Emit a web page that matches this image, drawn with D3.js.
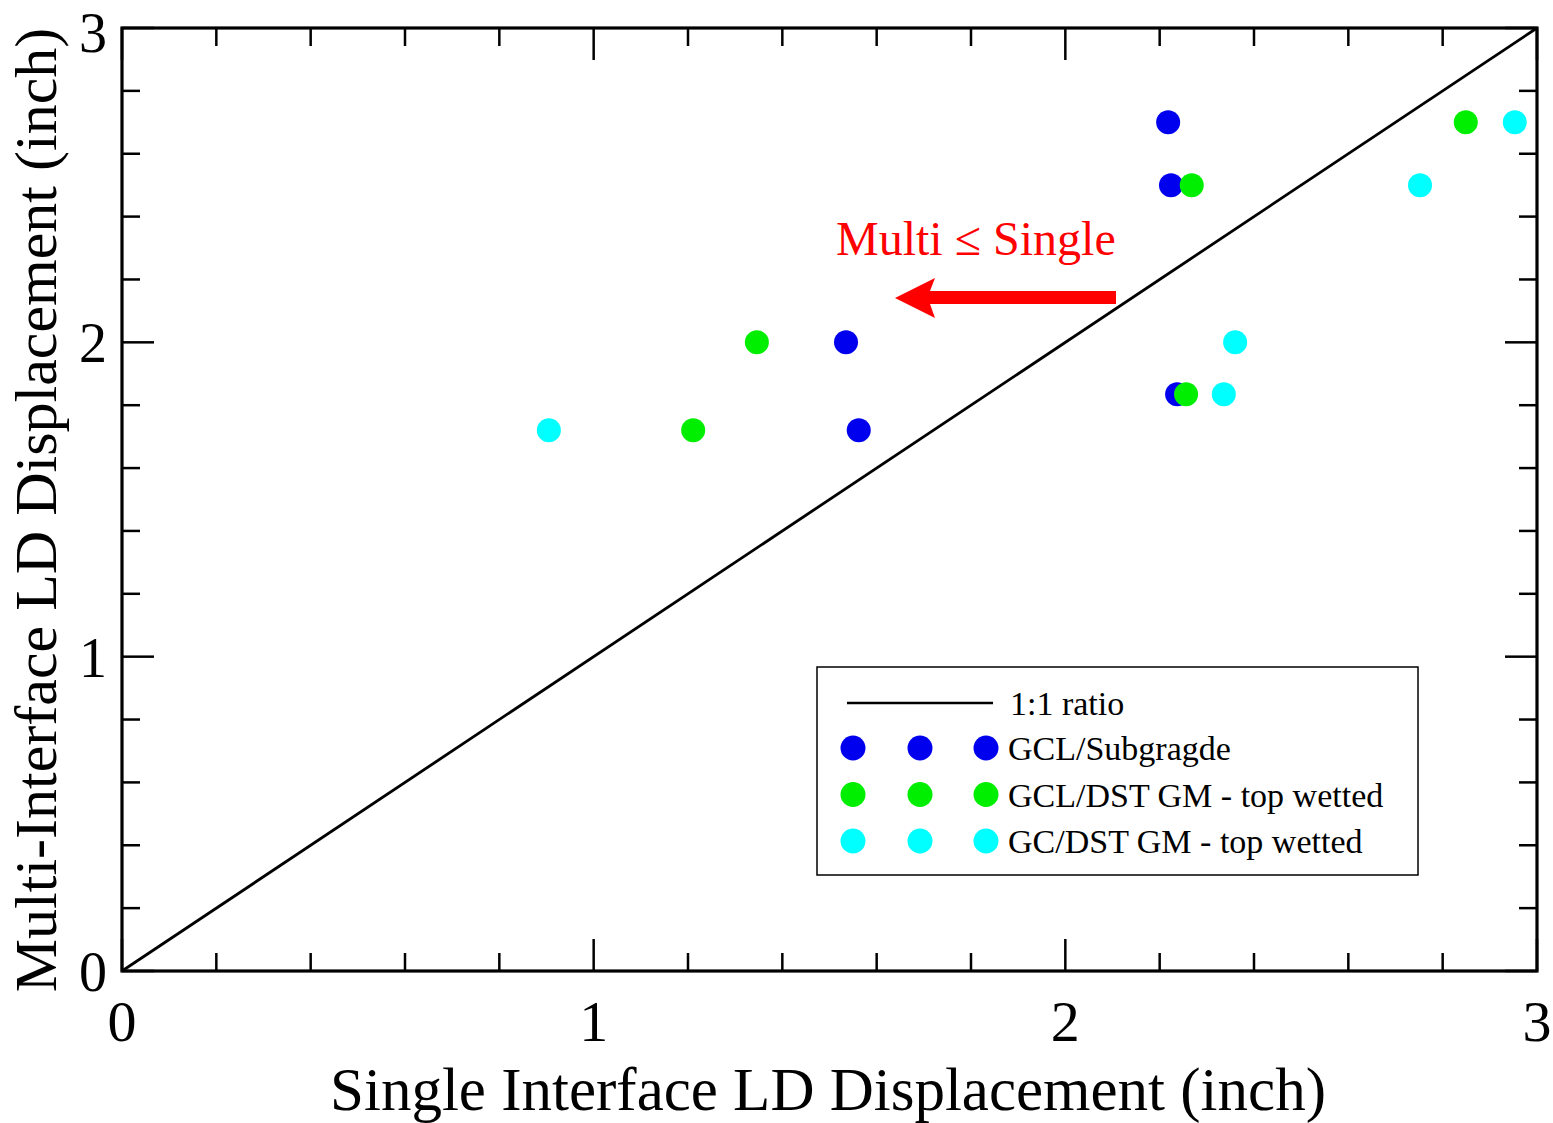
<!DOCTYPE html>
<html><head><meta charset="utf-8">
<script src="https://cdn.jsdelivr.net/npm/d3@7"></script>
<style>body{margin:0;background:#fff}svg{display:block}text{font-family:"Liberation Serif","Times New Roman",serif}</style>
</head><body>
<script>
const seriesNames = ["GCL/Subgragde", "GCL/DST GM - top wetted", "GC/DST GM - top wetted"];
const seriesColors = ["#0000ee", "#00ee00", "#00ffff"];
const blueX = [2.218, 2.224, 1.535, 1.562, 2.237];
const blueY = [2.70, 2.50, 2.00, 1.72, 1.835];
const greenX = [2.268, 1.346, 1.211, 2.256, 2.849];
const greenY = [2.50, 2.00, 1.72, 1.835, 2.70];
const cyanX = [0.905, 2.360, 2.336, 2.752, 2.953];
const cyanY = [1.72, 2.00, 1.835, 2.50, 2.70];
const majorTicks = [0, 1, 2, 3];
const minorTicks = [0.2,0.4,0.6,0.8,1.2,1.4,1.6,1.8,2.2,2.4,2.6,2.8];
const ratioLine = [[0,0],[3,3]];

const W = 1553, H = 1123;
const L = 122, R = 1537, T = 28, B = 971;
const svg = d3.select("body").append("svg").attr("width", W).attr("height", H);
const x = d3.scaleLinear().domain([0,3]).range([L,R]);
const y = d3.scaleLinear().domain([0,3]).range([B,T]);

// ticks (inward, all 4 sides)
const g = svg.append("g");
function ticks(vals, len){
  vals.forEach(v=>{
    g.append("line").attr("x1",x(v)).attr("x2",x(v)).attr("y1",B).attr("y2",B-len).attr("stroke","#000").attr("stroke-width",2.5);
    g.append("line").attr("x1",x(v)).attr("x2",x(v)).attr("y1",T).attr("y2",T+len).attr("stroke","#000").attr("stroke-width",2.5);
    g.append("line").attr("y1",y(v)).attr("y2",y(v)).attr("x1",L).attr("x2",L+len).attr("stroke","#000").attr("stroke-width",2.5);
    g.append("line").attr("y1",y(v)).attr("y2",y(v)).attr("x1",R).attr("x2",R-len).attr("stroke","#000").attr("stroke-width",2.5);
  });
}
ticks(majorTicks, 32);
ticks(minorTicks, 18);

// 1:1 line
svg.append("path").datum(ratioLine)
  .attr("d", d3.line().x(d=>x(d[0])).y(d=>y(d[1])))
  .attr("stroke","#000").attr("stroke-width",2.8).attr("fill","none");

// frame
svg.append("rect").attr("x",L).attr("y",T).attr("width",R-L).attr("height",B-T)
  .attr("fill","none").attr("stroke","#000").attr("stroke-width",3.2);

// tick labels
majorTicks.forEach(v=>{
  svg.append("text").attr("x",x(v)).attr("y",B+70).attr("text-anchor","middle")
    .attr("font-size",58).text(v);
  svg.append("text").attr("x",L-15).attr("y",Math.max(y(v)+20, 52)).attr("text-anchor","end")
    .attr("font-size",56).text(v);
});

// axis titles
svg.append("text").attr("x",828).attr("y",1110).attr("text-anchor","middle")
  .attr("font-size",61).text("Single Interface LD Displacement (inch)");
svg.append("text").attr("transform",`translate(56,510) rotate(-90)`).attr("text-anchor","middle")
  .attr("font-size",60).text("Multi-Interface LD Displacement (inch)");

// points
const allSeries = [[blueX,blueY],[greenX,greenY],[cyanX,cyanY]];
allSeries.forEach((s,i)=>{
  svg.append("g").selectAll("circle").data(s[0].map((d,j)=>[d,s[1][j]])).join("circle")
    .attr("cx",d=>x(d[0])).attr("cy",d=>y(d[1])).attr("r",12).attr("fill",seriesColors[i]);
});

// annotation
svg.append("text").attr("x",836).attr("y",255).attr("font-size",48).attr("fill","#ff0000")
  .text("Multi \u2264 Single");
svg.append("path").attr("d","M1116,291 L930,291 L935,278 L895,298 L935,318 L930,304 L1116,304 Z")
  .attr("fill","#ff0000");

// legend
const lg = svg.append("g");
lg.append("rect").attr("x",817).attr("y",667).attr("width",601).attr("height",208)
  .attr("fill","#fff").attr("stroke","#000").attr("stroke-width",1.5);
lg.append("line").attr("x1",847).attr("x2",993).attr("y1",703).attr("y2",703).attr("stroke","#000").attr("stroke-width",2.5);
lg.append("text").attr("x",1010).attr("y",715).attr("font-size",34).text("1:1 ratio");
seriesNames.forEach((n,i)=>{
  const yy = 748 + i*46.5;
  [853,920,986].forEach(cx=>lg.append("circle").attr("cx",cx).attr("cy",yy).attr("r",12.5).attr("fill",seriesColors[i]));
  lg.append("text").attr("x",1008).attr("y",yy+12).attr("font-size",34).text(n);
});
</script>
</body></html>
